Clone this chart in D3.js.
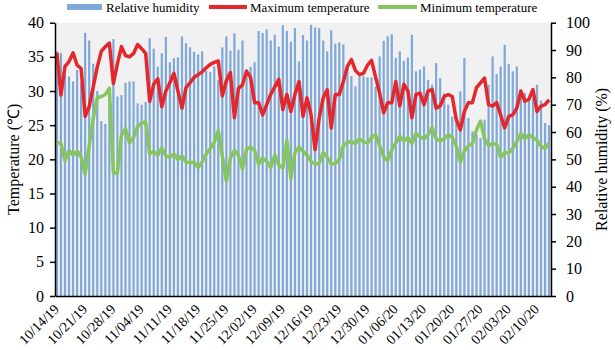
<!DOCTYPE html>
<html>
<head>
<meta charset="utf-8">
<script src="https://cdn.jsdelivr.net/npm/d3@7"></script>
<style>
  body { margin: 0; background: #fff; }
  svg { display: block; font-family: "Liberation Serif", "Times New Roman", serif; }
</style>
</head>
<body>
<svg id="chart" width="615" height="350"></svg>
<script>
// daily data, 10/14/19 .. 02/13/20 (123 days)
const startDate = new Date(2019, 9, 14);
const dayCount = 123;

// relative humidity (%)
const humidity = [
  89.5, 88.9, 81, 80.3, 78.5, 82.7, 78, 96.3, 93.5, 85,
  75, 64, 63, 72, 94, 73, 73.5, 78, 78.5, 78.5,
  70.5, 70, 71, 94.3, 90.5, 84, 88.8, 94.8, 85.5, 87,
  87.3, 95, 92.5, 91, 89.3, 88.4, 89.5, 82.5, 82, 84,
  79, 91, 95, 89.8, 96.1, 90.1, 93.5, 83, 83.8, 85.5,
  97, 96.2, 97.5, 93.5, 95.6, 91.3, 99.1, 97, 93, 98,
  85.8, 95.5, 93.5, 99.2, 98.3, 98, 93.5, 89.5, 97.2, 92.3,
  92.8, 92, 83.8, 80.5, 76.7, 80.4, 80.4, 80, 80, 76.7,
  87.7, 93.4, 95, 95.8, 87.1, 89.5, 86.1, 87.3, 95.6, 82.2,
  82.8, 84, 79.1, 77.3, 85.2, 79.7, 74.2, 70, 65.7, 64.5,
  74.9, 87.1, 65.1, 60.2, 59, 57.8, 64.5, 77.3, 87.7, 81.2,
  84, 91.9, 84.9, 82.2, 84, 73.5, 74.2, 71.8, 72.4, 77.3,
  71.5, 63.3, 62.5
];

// maximum temperature (°C)
const maxTemp = [
  35.6, 29.4, 33.6, 34.3, 35.6, 33.8, 33.3, 26.3, 27.7, 30.6,
  33.5, 35.8, 36.5, 37.0, 31.1, 34.0, 36.5, 35.2, 35.0, 35.5,
  36.8, 36.2, 35.5, 28.5, 31.0, 31.8, 27.7, 30.0, 31.2, 32.6,
  30.0, 27.5, 30.5, 31.2, 32.0, 32.4, 32.8, 33.4, 33.9, 34.2,
  34.4, 29.3, 31.5, 32.7, 26.1, 30.4, 30.9, 32.9, 32.0, 28.3,
  28.3, 26.5, 28.0, 29.5, 30.6, 31.7, 27.3, 29.5, 27.0, 29.5,
  31.4, 26.3, 29.0, 26.5, 21.4, 26.0, 29.0, 30.2, 24.6, 29.5,
  29.5, 31.4, 33.6, 34.6, 33.0, 32.4, 32.6, 33.8, 34.5, 32.0,
  29.7, 26.8, 28.3, 28.3, 31.4, 27.8, 31.0, 30.0, 26.1, 29.5,
  29.7, 28.0, 30.0, 30.2, 27.5, 27.8, 29.2, 29.5, 29.2, 25.8,
  24.3, 27.0, 28.3, 28.3, 30.5, 31.2, 31.9, 28.0, 27.8, 28.3,
  26.5, 24.6, 26.3, 26.5, 27.5, 30.0, 28.5, 28.8, 30.2, 27.0,
  27.8, 28.0, 28.7
];

// minimum temperature (°C)
const minTemp = [
  22.5, 22.3, 19.8, 21.3, 20.6, 21.2, 20.4, 17.8, 22.0, 26.0,
  29.0, 29.2, 29.5, 30.4, 18.0, 18.0, 23.5, 24.5, 22.4, 23.2,
  24.8, 25.3, 25.5, 20.8, 21.2, 20.6, 21.7, 20.5, 20.3, 20.8,
  20.0, 20.5, 19.6, 19.5, 19.6, 18.8, 19.6, 20.8, 21.6, 22.5,
  24.2, 20.5, 16.8, 20.2, 21.3, 20.6, 18.6, 21.5, 21.8, 21.3,
  19.3, 20.2, 19.7, 18.8, 20.6, 19.2, 18.7, 22.8, 17.2, 21.0,
  21.8, 21.2, 20.6, 19.7, 19.3, 19.4, 21.0, 20.3, 19.3, 19.4,
  20.0, 22.0, 22.5, 22.6, 22.3, 23.0, 22.6, 22.4, 23.2, 23.6,
  22.0, 20.4, 19.8, 21.4, 22.4, 23.4, 22.7, 23.2, 22.3, 23.8,
  23.3, 23.0, 23.6, 24.7, 23.0, 22.7, 23.0, 23.6, 23.2, 21.9,
  19.6, 21.2, 22.0, 22.3, 24.3, 25.6, 23.0, 22.0, 22.3, 22.2,
  20.3, 21.0, 20.9, 21.6, 22.6, 23.8, 23.0, 23.6, 23.2, 22.8,
  21.9, 21.6, 22.4
];

const tempTicks = [0, 5, 10, 15, 20, 25, 30, 35, 40];
const humTicks = [0, 10, 20, 30, 40, 50, 60, 70, 80, 90, 100];
const dateLabels = ["10/14/19", "10/21/19", "10/28/19", "11/04/19", "11/11/19", "11/18/19",
  "11/25/19", "12/02/19", "12/09/19", "12/16/19", "12/23/19", "12/30/19", "01/06/20",
  "01/13/20", "01/20/20", "01/27/20", "02/03/20", "02/10/20"];

const days = d3.range(dayCount).map(i => d3.timeDay.offset(startDate, i));
const fmt = d3.timeFormat("%m/%d/%y");

const plotL = 55, plotR = 551, plotT = 22.7, plotB = 296;
const svg = d3.select("#chart");

const x = d3.scaleBand()
  .domain(days.map(fmt))
  .range([plotL, plotR])
  .paddingInner(0.45)
  .paddingOuter(0.2);

const yT = d3.scaleLinear().domain([0, 40]).range([plotB, plotT]);
const yH = d3.scaleLinear().domain([0, 100]).range([plotB, plotT]);

// plot background
svg.append("rect")
  .attr("x", plotL).attr("y", plotT)
  .attr("width", plotR - plotL).attr("height", plotB - plotT)
  .attr("fill", "#f1f1f1");

// humidity bars
svg.append("g").selectAll("rect")
  .data(humidity)
  .join("rect")
  .attr("x", (d, i) => x(fmt(days[i])))
  .attr("y", d => yH(d))
  .attr("width", x.bandwidth())
  .attr("height", d => yH(0) - yH(d))
  .attr("fill", "#80a8d8");

const cx = i => x(fmt(days[i])) + x.bandwidth() / 2;

const line = d3.line()
  .x((d, i) => cx(i))
  .y(d => yT(d));

svg.append("path")
  .datum(minTemp)
  .attr("d", line)
  .attr("fill", "none")
  .attr("stroke", "#86c65d")
  .attr("stroke-width", 3.5)
  .attr("stroke-linejoin", "round");

svg.append("path")
  .datum(maxTemp)
  .attr("d", line)
  .attr("fill", "none")
  .attr("stroke", "#e5272b")
  .attr("stroke-width", 3.5)
  .attr("stroke-linejoin", "round");

// left axis
const axL = svg.append("g")
  .attr("transform", `translate(${plotL},0)`)
  .call(d3.axisLeft(yT).tickValues(tempTicks).tickSize(5).tickSizeOuter(0).tickPadding(6));
axL.selectAll("text").attr("font-size", 16).attr("font-family", "Liberation Serif").attr("fill", "#000");

// right axis
const axR = svg.append("g")
  .attr("transform", `translate(${plotR},0)`)
  .call(d3.axisRight(yH).tickValues(humTicks).tickSize(5).tickSizeOuter(0).tickPadding(10));
axR.selectAll("text").attr("font-size", 16).attr("font-family", "Liberation Serif").attr("fill", "#000");

// bottom axis
const weekly = days.filter((d, i) => i % 7 === 0).map(fmt);
const axB = svg.append("g")
  .attr("transform", `translate(0,${plotB})`)
  .call(d3.axisBottom(x).tickValues(weekly).tickSize(0).tickSizeOuter(0)
    .tickFormat((d, i) => dateLabels[i]));
axB.selectAll("text")
  .attr("font-size", 14)
  .attr("font-family", "Liberation Serif")
  .attr("fill", "#000")
  .attr("text-anchor", "end")
  .attr("y", 0).attr("dy", 0)
  .attr("transform", "translate(3,14) rotate(-45)");

svg.selectAll(".domain, .tick line").attr("stroke", "#000").attr("stroke-width", 1.5);

// axis titles
svg.append("text")
  .attr("transform", `translate(19,${(plotT + plotB) / 2}) rotate(-90)`)
  .attr("text-anchor", "middle")
  .attr("font-size", 16)
  .text("Temperature (℃)");

svg.append("text")
  .attr("transform", `translate(607,${(plotT + plotB) / 2}) rotate(-90)`)
  .attr("text-anchor", "middle")
  .attr("font-size", 16)
  .text("Relative humidity (%)");

// legend
const legend = svg.append("g").attr("font-size", 13);
legend.append("rect").attr("x", 67).attr("y", 4).attr("width", 35).attr("height", 6).attr("fill", "#80a8d8");
legend.append("text").attr("x", 106).attr("y", 12).text("Relative humidity");
legend.append("line").attr("x1", 209).attr("x2", 247).attr("y1", 7).attr("y2", 7)
  .attr("stroke", "#e5272b").attr("stroke-width", 4);
legend.append("text").attr("x", 250).attr("y", 12).text("Maximum temperature");
legend.append("line").attr("x1", 378).attr("x2", 417).attr("y1", 7).attr("y2", 7)
  .attr("stroke", "#86c65d").attr("stroke-width", 4);
legend.append("text").attr("x", 420).attr("y", 12).text("Minimum temperature");
</script>
</body>
</html>
